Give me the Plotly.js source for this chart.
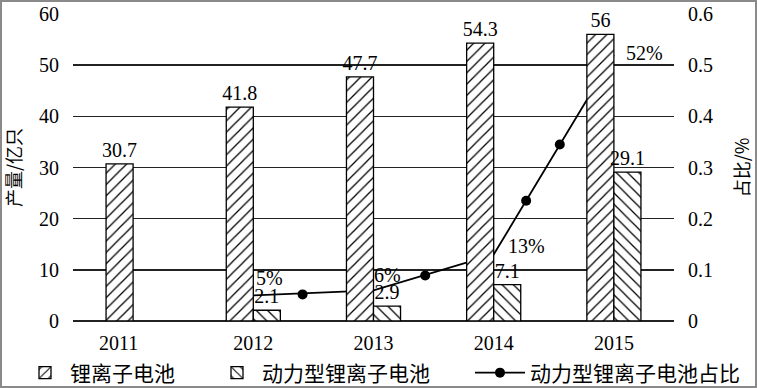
<!DOCTYPE html>
<html>
<head>
<meta charset="utf-8">
<script src="https://cdn.plot.ly/plotly-3.0.1.min.js"></script>
<style>
  html, body { margin: 0; padding: 0; background: #fff; }
  #wrap { position: relative; width: 757px; height: 388px; }
  #chart { width: 757px; height: 388px; }
  #frame { position: absolute; left: 0; top: 0; width: 757px; height: 388px;
           box-sizing: border-box; border: 2px solid #8a8a8a; pointer-events: none; }
</style>
</head>
<body>
<div id="wrap">
  <div id="chart"></div>
  <div id="frame"></div>
</div>
<script>
// Output of lithium-ion batteries (亿只) and the share of power-type cells
const years = [2011, 2012, 2013, 2014, 2015];
const yearLabels = ['2011', '2012', '2013', '2014', '2015'];
const liIonOutput = [30.7, 41.8, 47.7, 54.3, 56];
const powerOutput = [null, 2.1, 2.9, 7.1, 29.1];

// Share of power-type cells, with the dot markers placed along the line
const shareYears = [2012, 2013, 2014, 2015];
const powerShare = [0.05, 0.06, 0.13, 0.52];
const dotYears = [2012.41, 2013.43, 2014.27, 2014.55];
const dotShare = [0.052, 0.089, 0.235, 0.345];

const seriesNames = ['锂离子电池', '动力型锂离子电池', '动力型锂离子电池占比'];

const NUM_FONT = 'Liberation Serif, Times New Roman, serif';
const CJK_FONT = 'Noto Sans CJK SC, sans-serif';

const barLine = { color: '#000', width: 1.3 };
const valueFont = { family: NUM_FONT, size: 20, color: '#000' };

const traces = [
  {
    type: 'bar', name: seriesNames[0], x: years, y: liIonOutput, yaxis: 'y2',
    marker: { color: '#fff', line: barLine,
      pattern: { shape: '/', fgcolor: '#000', bgcolor: '#fff', size: 8, solidity: 0.16 } },
    text: liIonOutput.map(String), textposition: 'outside', cliponaxis: false,
    constraintext: 'none', textfont: valueFont,
    legend: 'legend', hoverinfo: 'skip'
  },
  {
    type: 'bar', name: seriesNames[1], x: years, y: powerOutput, yaxis: 'y2',
    marker: { color: '#fff', line: barLine,
      pattern: { shape: '\\', fgcolor: '#000', bgcolor: '#fff', size: 8, solidity: 0.16 } },
    text: powerOutput.map(v => v == null ? '' : String(v)), textposition: 'outside', cliponaxis: false,
    constraintext: 'none', textfont: valueFont,
    legend: 'legend2', hoverinfo: 'skip'
  },
  {
    type: 'scatter', mode: 'lines', x: shareYears, y: powerShare, yaxis: 'y',
    line: { color: '#000', width: 1.8 }, showlegend: false, hoverinfo: 'skip'
  },
  {
    type: 'scatter', mode: 'markers', x: dotYears, y: dotShare, yaxis: 'y',
    marker: { color: '#000', size: 10 }, showlegend: false, hoverinfo: 'skip'
  },
  {
    // legend entry for the share line
    type: 'scatter', mode: 'lines+markers', name: seriesNames[2], x: [null], y: [null], yaxis: 'y',
    line: { color: '#000', width: 1.8 }, marker: { color: '#000', size: 10 },
    legend: 'legend3', hoverinfo: 'skip'
  }
];

const shareLabelShift = [[16, 17], [14, 15], [33, 8], [31, 2]];
const annotations = powerShare.map((v, i) => ({
  x: shareYears[i], y: v, xref: 'x', yref: 'y',
  text: Math.round(v * 100) + '%', showarrow: false,
  xshift: shareLabelShift[i][0], yshift: shareLabelShift[i][1],
  font: valueFont
}));

const legendBase = {
  orientation: 'h', xref: 'container', yref: 'container', yanchor: 'middle',
  y: 1 - 373 / 388, bgcolor: 'rgba(0,0,0,0)', borderwidth: 0, tracegroupgap: 0,
  font: { family: CJK_FONT, size: 21, color: '#000' }
};

const tickFont = { family: NUM_FONT, size: 20, color: '#000' };
const titleFont = { family: CJK_FONT, size: 18, color: '#000' };

const layout = {
  width: 757, height: 388,
  margin: { l: 73, r: 83, t: 14, b: 67 },
  paper_bgcolor: '#fff', plot_bgcolor: '#fff',
  barmode: 'group', bargap: 0.55, bargroupgap: 0,
  font: { family: NUM_FONT, color: '#000' },
  xaxis: {
    range: [2010.5, 2015.5],
    tickvals: years.map(y => y === 2011 ? y - 0.12 : y), ticktext: yearLabels,
    showgrid: false, zeroline: false, showline: false,
    ticks: 'outside', ticklen: 4, tickcolor: 'rgba(0,0,0,0)',
    tickfont: tickFont
  },
  yaxis: {
    side: 'right', range: [0, 0.6], dtick: 0.1, tick0: 0,
    showgrid: false, zeroline: false, showline: false,
    ticks: 'outside', ticklen: 9, tickcolor: 'rgba(0,0,0,0)',
    tickfont: tickFont,
    title: { text: '占比/%', font: titleFont, standoff: 24 }
  },
  yaxis2: {
    overlaying: 'y', side: 'left', range: [0, 60], dtick: 10, tick0: 0,
    showgrid: true, gridcolor: '#222', gridwidth: 1.5,
    zeroline: true, zerolinecolor: '#222', zerolinewidth: 1.5, showline: false,
    ticks: 'outside', ticklen: 9, tickcolor: 'rgba(0,0,0,0)',
    tickfont: tickFont,
    title: { text: '产量/亿只', font: titleFont, standoff: 18 }
  },
  legend: Object.assign({}, legendBase, { x: 20 / 757, itemwidth: 40 }),
  legend2: Object.assign({}, legendBase, { x: 212 / 757, itemwidth: 40 }),
  legend3: Object.assign({}, legendBase, { x: 470 / 757, itemwidth: 50 }),
  annotations: annotations,
  showlegend: true
};

Plotly.newPlot('chart', traces, layout, { displayModeBar: false, staticPlot: true });
</script>
</body>
</html>
